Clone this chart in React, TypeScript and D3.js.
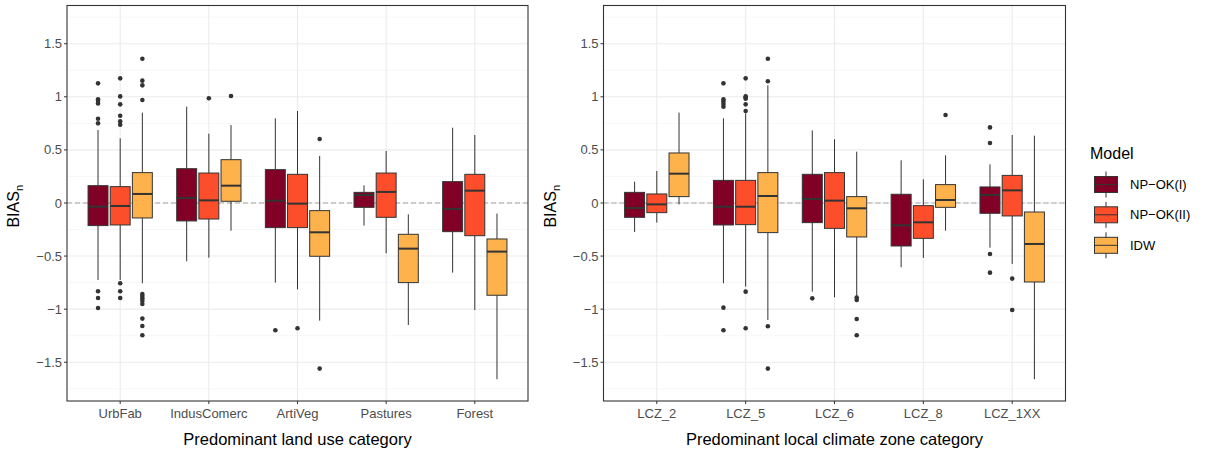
import React from "react";
import * as d3 from "d3";

const models = ["NP−OK(I)", "NP−OK(II)", "IDW"];
const colors = ["#800026", "#FC4E2A", "#FEB24C"];

const landCats = ["UrbFab", "IndusComerc", "ArtiVeg", "Pastures", "Forest"];
const lczCats = ["LCZ_2", "LCZ_5", "LCZ_6", "LCZ_8", "LCZ_1XX"];

// [lowWhisker, q1, median, q3, highWhisker] per category per model
const landStats: number[][][] = [
  [[-0.725, -0.213, -0.035, 0.163, 0.687], [-0.725, -0.207, -0.028, 0.154, 0.609], [-0.756, -0.141, 0.085, 0.286, 0.851]],
  [[-0.549, -0.169, 0.047, 0.323, 0.907], [-0.515, -0.151, 0.025, 0.282, 0.653], [-0.261, 0.016, 0.163, 0.408, 0.734]],
  [[-0.75, -0.232, 0.022, 0.314, 0.797], [-0.813, -0.232, -0.006, 0.27, 0.866], [-1.108, -0.502, -0.276, -0.072, 0.443]],
  [[-0.213, -0.041, 0.075, 0.1, 0.166], [-0.474, -0.135, 0.104, 0.282, 0.49], [-1.149, -0.75, -0.43, -0.295, -0.107]],
  [[-0.656, -0.27, -0.056, 0.201, 0.709], [-1.008, -0.308, 0.116, 0.27, 0.64], [-1.66, -0.869, -0.458, -0.339, -0.1]],
];
const landOutliers: number[][][] = [
  [[1.127, 0.976, 0.96, 0.938, 0.794, 0.75, -0.832, -0.895, -0.989], [1.174, 1.004, 0.929, 0.822, 0.769, 0.738, -0.756, -0.832, -0.895], [1.359, 1.152, 1.108, 0.97, -0.857, -0.876, -0.898, -0.92, -0.951, -1.089, -1.158, -1.246]],
  [[], [0.986], [1.008]],
  [[-1.199], [-1.18], [0.603, -1.56]],
  [[], [], []],
  [[], [], []],
];

const lczStats: number[][][] = [
  [[-0.273, -0.135, -0.047, 0.1, 0.201], [-0.185, -0.091, -0.013, 0.085, 0.301], [-0.013, 0.06, 0.276, 0.471, 0.851]],
  [[-0.756, -0.207, -0.035, 0.213, 0.797], [-0.788, -0.204, -0.035, 0.213, 0.844], [-1.102, -0.279, 0.066, 0.286, 1.108]],
  [[-0.835, -0.185, 0.038, 0.27, 0.684], [-0.888, -0.239, 0.022, 0.286, 0.6], [-0.876, -0.32, -0.05, 0.06, 0.483]],
  [[-0.606, -0.405, -0.21, 0.082, 0.402], [-0.518, -0.333, -0.182, -0.025, 0.223], [-0.261, -0.041, 0.028, 0.173, 0.449]],
  [[-0.421, -0.097, 0.075, 0.151, 0.364], [-0.574, -0.122, 0.119, 0.26, 0.64], [-1.66, -0.744, -0.386, -0.085, 0.634]],
];
const lczOutliers: number[][][] = [
  [[], [], []],
  [[1.127, 0.976, 0.957, 0.932, 0.907, -0.986, -1.199], [1.174, 1.004, 0.995, 0.982, 0.929, 0.866, -0.835, -1.18], [1.359, 1.146, -1.161, -1.56]],
  [[-0.898], [], [-0.891, -0.913, -1.092, -1.246]],
  [[], [], [0.829]],
  [[0.712, 0.565, -0.48, -0.656], [-0.712, -1.008], []],
];

const yTicks = [1.5, 1, 0.5, 0, -0.5, -1, -1.5];
const yMinor = [1.75, 1.25, 0.75, 0.25, -0.25, -0.75, -1.25, -1.75];

const FONT = "'Liberation Sans', Arial, Helvetica, sans-serif";
const top = 5.5;
const bottom = 401;

function fmt(v: number) {
  const s = String(Math.abs(v));
  return v < 0 ? "−" + s : s;
}

function Panel({ x0, x1, cats, stats, outliers, xTitle }: any) {
  const y = d3.scaleLinear().domain([-1.865, 1.86]).range([bottom, top]);
  const x = d3.scalePoint<string>().domain(cats).range([x0, x1]).padding(0.6);
  const step = x.step();
  const dodge = (step * 0.75) / 3;
  const bw = dodge * 0.9;
  const cx = (x0 + x1) / 2;
  return (
    <g>
      <rect x={x0} y={top} width={x1 - x0} height={bottom - top} fill="white" />
      {yMinor.map((t) => (
        <line key={"mi" + t} x1={x0} x2={x1} y1={y(t)} y2={y(t)} stroke="#f2f2f2" strokeWidth={0.6} />
      ))}
      {yTicks.map((t) => (
        <line key={"ma" + t} x1={x0} x2={x1} y1={y(t)} y2={y(t)} stroke="#ebebeb" strokeWidth={1.1} />
      ))}
      {cats.map((c: string) => (
        <line key={"vx" + c} x1={x(c)} x2={x(c)} y1={top} y2={bottom} stroke="#ebebeb" strokeWidth={1.1} />
      ))}
      <line x1={x0} x2={x1} y1={y(0)} y2={y(0)} stroke="#a6a6a6" strokeWidth={1} strokeDasharray="5,3" />
      {cats.map((c: string, ci: number) =>
        stats[ci].map((s: number[], mi: number) => {
          const mx = (x(c) as number) + (mi - 1) * dodge;
          return (
            <g key={c + mi}>
              <line x1={mx} x2={mx} y1={y(s[4])} y2={y(s[3])} stroke="#333" strokeWidth={1} />
              <line x1={mx} x2={mx} y1={y(s[1])} y2={y(s[0])} stroke="#333" strokeWidth={1} />
              <rect x={mx - bw / 2} y={y(s[3])} width={bw} height={y(s[1]) - y(s[3])} fill={colors[mi]} stroke="#333" strokeWidth={1} />
              <line x1={mx - bw / 2} x2={mx + bw / 2} y1={y(s[2])} y2={y(s[2])} stroke="#333" strokeWidth={2} />
              {outliers[ci][mi].map((o: number, oi: number) => (
                <circle key={oi} cx={mx} cy={y(o)} r={2.3} fill="#333" />
              ))}
            </g>
          );
        })
      )}
      <rect x={x0} y={top} width={x1 - x0} height={bottom - top} fill="none" stroke="#333" strokeWidth={1.1} />
      {yTicks.map((t) => (
        <g key={"yt" + t}>
          <line x1={x0 - 3} x2={x0} y1={y(t)} y2={y(t)} stroke="#333" strokeWidth={1} />
          <text x={x0 - 5} y={y(t)} dy="0.35em" textAnchor="end" fontSize={13} fill="#4d4d4d" fontFamily={FONT}>
            {fmt(t)}
          </text>
        </g>
      ))}
      {cats.map((c: string) => (
        <g key={"xt" + c}>
          <line x1={x(c)} x2={x(c)} y1={bottom} y2={bottom + 3} stroke="#333" strokeWidth={1} />
          <text x={x(c)} y={bottom + 17} textAnchor="middle" fontSize={13} fill="#4d4d4d" fontFamily={FONT}>
            {c}
          </text>
        </g>
      ))}
      <text x={cx} y={bottom + 44} textAnchor="middle" fontSize={16.5} fill="#000" fontFamily={FONT}>
        {xTitle}
      </text>
      <text transform={`translate(${x0 - 48},${(top + bottom) / 2 + 3}) rotate(-90)`} textAnchor="middle" fontSize={16} fill="#000" fontFamily={FONT}>
        BIAS<tspan fontSize={11} dy={4}>n</tspan>
      </text>
    </g>
  );
}

export default function App() {
  const legendY = [184.5, 214.8, 245.3];
  return (
    <svg width={1205} height={455} style={{ position: "absolute", left: 0, top: 0 }}>
      <rect width={1205} height={455} fill="white" />
      <Panel x0={67} x1={528} cats={landCats} stats={landStats} outliers={landOutliers} xTitle="Predominant land use category" />
      <Panel x0={603.5} x1={1065.5} cats={lczCats} stats={lczStats} outliers={lczOutliers} xTitle="Predominant local climate zone category" />
      <text x={1090} y={159} fontSize={16} fill="#000" fontFamily={FONT}>Model</text>
      {models.map((m, i) => (
        <g key={m}>
          <line x1={1106} x2={1106} y1={legendY[i] - 13} y2={legendY[i] + 13} stroke="#333" strokeWidth={1} />
          <rect x={1094.5} y={legendY[i] - 8} width={23} height={16} fill={colors[i]} stroke="#333" strokeWidth={1} />
          <line x1={1094.5} x2={1117.5} y1={legendY[i]} y2={legendY[i]} stroke="#333" strokeWidth={1} />
          <text x={1130} y={legendY[i]} dy="0.35em" fontSize={13} fill="#000" fontFamily={FONT}>
            {m}
          </text>
        </g>
      ))}
    </svg>
  );
}
